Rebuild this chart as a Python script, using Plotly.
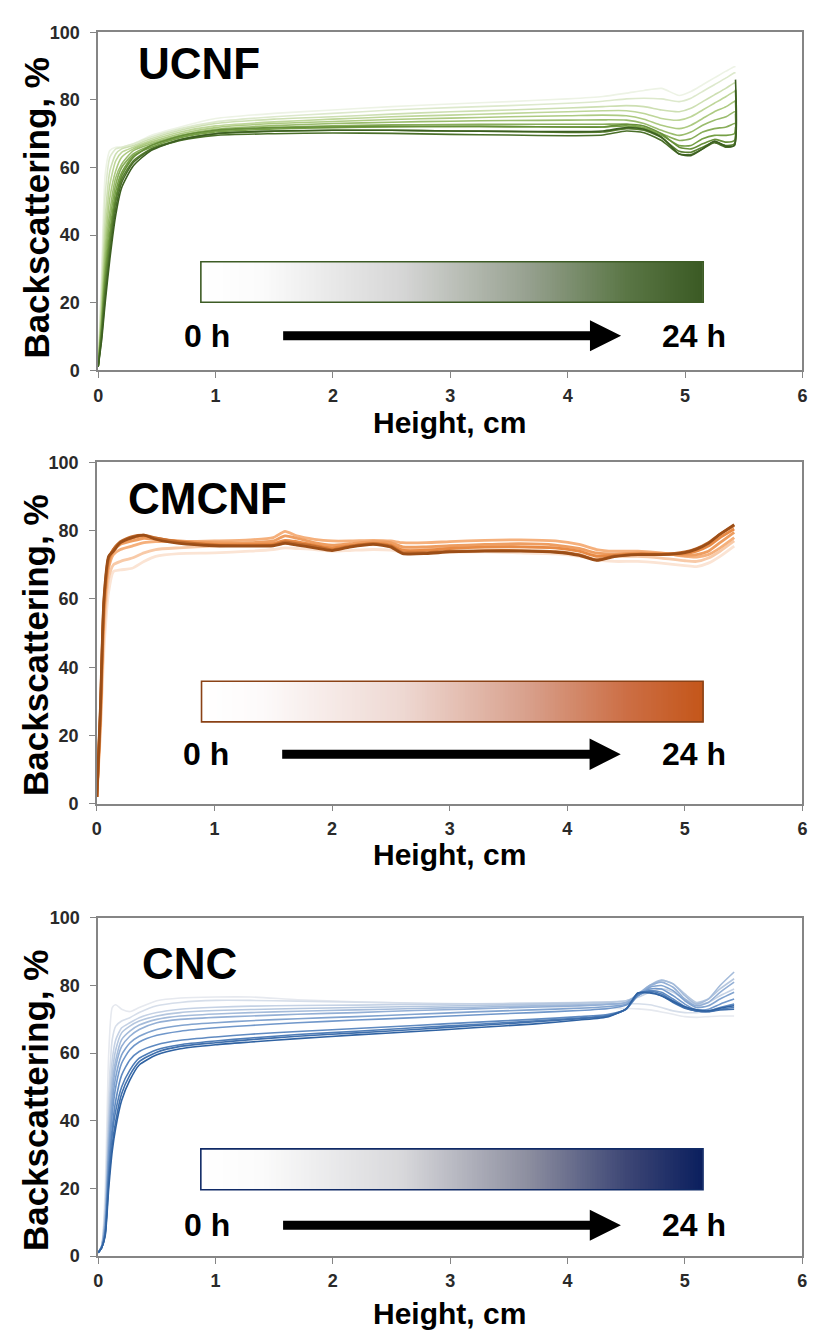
import plotly.graph_objects as go
import numpy as np

# ---------------- DATA ----------------
# UCNF
X_UCNF = [0, 0.03, 0.06, 0.1, 0.15, 0.2, 0.3, 0.45, 0.7, 1.0, 1.5, 2.0, 2.5, 3.0, 3.5, 4.0,
          4.3, 4.5, 4.65, 4.8, 4.95, 5.05, 5.15, 5.25, 5.35, 5.42, 5.43]
UCNF = [
    [1, 30, 58, 65, 66, 66, 67, 69.5, 72, 74.5, 76, 77, 78, 78.8, 79.5, 80.3, 81, 82, 82.8, 83.4, 81.3, 82.5, 84.5, 86.5, 88.5, 89.8, 89.8],
    [1, 26, 52, 63, 65.5, 66, 67, 69, 71.5, 73.5, 75, 76, 77, 77.7, 78.3, 79, 79.6, 80.3, 80.5, 80.3, 79.5, 80.5, 82.5, 84.5, 86.5, 88, 88],
    [1, 22, 45, 59, 64, 65.5, 66.5, 68.5, 71, 73, 74.3, 75, 75.8, 76.5, 77, 77.6, 78, 78.3, 78, 77, 76.5, 77.5, 79.5, 81.5, 83.5, 85, 85],
    [1, 19, 40, 55, 62, 64.5, 66, 68, 70.5, 72.3, 73.5, 74.3, 75, 75.5, 76, 76.5, 76.8, 76.8, 76, 74.5, 74, 75, 77, 79, 81, 82.5, 82.5],
    [1, 17, 36, 51, 59, 63, 65.5, 67.5, 70, 71.8, 73, 73.6, 74.2, 74.6, 75, 75.3, 75.5, 75.3, 74.3, 72.5, 71.5, 72.5, 74.5, 76.5, 78, 79.5, 79.5],
    [1, 15, 33, 47, 57, 61, 65, 67, 69.5, 71.3, 72.4, 73, 73.4, 73.7, 73.9, 74, 74.1, 74, 73, 71, 69.5, 70.5, 72.5, 74, 75, 76.5, 76.5],
    [1, 14, 30, 44, 55, 60, 64, 66.5, 69, 70.8, 71.8, 72.3, 72.6, 72.7, 72.8, 72.8, 72.8, 72.8, 71.8, 70, 68, 68.5, 70.5, 71.5, 72, 73, 73],
    [1, 13, 28, 41, 53, 58.5, 63.5, 66, 68.8, 70.5, 71.4, 71.8, 72, 72.1, 72.1, 72, 72, 72.3, 71.5, 69.5, 66.5, 66.5, 68.5, 69.5, 69.5, 70, 72],
    [1, 12, 26, 39, 51, 57.5, 63, 66.5, 69.3, 71, 71.8, 72, 72.2, 72.2, 72.1, 72, 72, 72.8, 72.3, 70, 66, 65.5, 67, 68.3, 67.5, 68, 76],
    [1, 11, 24, 37, 50, 56.5, 62, 65.5, 68.3, 70, 70.7, 71, 71, 70.8, 70.6, 70.4, 70.5, 71.5, 71, 68.8, 64.8, 64.5, 66, 67.5, 66.5, 67, 80],
    [1, 10, 22, 35, 48, 55.5, 61.5, 65.3, 68, 69.5, 70, 70.2, 70.1, 69.8, 69.6, 69.4, 69.6, 70.8, 70.3, 68, 64, 63.8, 65.5, 67.3, 66, 66.5, 83],
    [1, 9, 20, 33, 46, 54, 60.5, 65, 68.2, 70, 70.8, 71, 71, 70.8, 70.7, 70.6, 70.8, 71.8, 71.3, 69, 64, 63.5, 65.5, 67.8, 66.3, 66.5, 86],
]

# CMCNF
X_CMCNF = [0, 0.03, 0.06, 0.1, 0.14, 0.2, 0.3, 0.4, 0.5, 0.7, 1.0, 1.3, 1.5, 1.6, 1.7, 1.85, 2.0, 2.15,
           2.35, 2.5, 2.6, 2.8, 3.0, 3.3, 3.6, 3.9, 4.1, 4.25, 4.4, 4.6, 4.8, 5.0, 5.1, 5.2, 5.3, 5.42]
CMCNF = [
    [2, 20, 45, 62, 68, 68.5, 69, 71, 72.5, 73.3, 73.5, 74, 74.5, 75, 74.8, 74.5, 74, 74.2, 74.5, 74.3, 73.8, 73.5, 73.7, 73.8, 73.5, 73.2, 72.5, 71.5, 71, 71, 70.5, 69.8, 69.5, 70.5, 72.5, 75.5],
    [2, 22, 50, 66, 70, 71, 72, 73.5, 74.5, 75, 75.5, 76, 76.5, 77, 76.5, 76, 75.5, 75.5, 76, 75.8, 75, 75, 75.3, 75.5, 75.3, 75, 74.3, 73, 72.5, 72.5, 72, 71.2, 71, 72, 74, 77],
    [2, 24, 54, 69, 73, 74.5, 75.5, 76.5, 76.8, 76.8, 77, 77.3, 78, 79.8, 78.5, 77.5, 77, 77, 77.2, 77, 76.5, 76.5, 76.8, 77.2, 77.3, 77, 76, 74.5, 74, 74, 73.5, 72.5, 72.3, 73, 75, 78],
    [2, 25, 56, 70, 74, 76, 77, 77.8, 77.5, 77, 76.5, 76.5, 77, 78.5, 77.8, 76.5, 75.8, 76.2, 76.8, 76.5, 75.3, 75.3, 75.6, 76, 76.2, 75.8, 74.8, 73.5, 73.2, 73.5, 73.3, 72.8, 73, 74, 76.5, 79.5],
    [2, 26, 58, 71, 74.5, 76.5, 77.8, 78.5, 77.8, 76.8, 76, 76, 76.2, 77.2, 76.8, 75.8, 75, 75.6, 76.3, 75.8, 74.3, 74.3, 74.8, 75.2, 75.3, 75, 74, 72.5, 72.8, 73.2, 73.2, 73.3, 74, 75.5, 78, 80.5],
    [2, 27, 59, 72, 74.5, 76.8, 78.3, 78.7, 77.9, 76.7, 75.8, 75.7, 75.8, 76.7, 76.2, 75.5, 74.4, 75.4, 76.2, 75.5, 73.6, 73.6, 74, 74.2, 74.2, 73.9, 73, 71.5, 72.6, 73.1, 73.1, 73.8, 74.8, 76.5, 79, 81.5],
    [2, 28, 60, 72.5, 74, 76.5, 78, 78.7, 77.5, 76.3, 75.6, 75.5, 75.6, 76.3, 75.8, 75, 74.2, 75.2, 76, 75.2, 73.3, 73.3, 73.8, 74, 74, 73.7, 72.8, 71.3, 72.4, 73, 73, 73.6, 74.6, 76.3, 79, 81.8],
]

# CNC
X_CNC = [0, 0.03, 0.06, 0.09, 0.12, 0.15, 0.2, 0.27, 0.35, 0.5, 0.7, 1.0, 1.3, 1.7, 2.2, 2.7, 3.2, 3.7,
         4.1, 4.35, 4.5, 4.6, 4.7, 4.8, 4.9, 5.0, 5.1, 5.2, 5.3, 5.42]
CNC = [
    [1, 3, 20, 60, 73.5, 74.3, 73, 72.3, 73.5, 75.5, 76.3, 76.6, 76.6, 75.8, 75.2, 74.7, 74.2, 73.8, 73.5, 73.3, 73.2, 73.1, 72.8, 72.2, 71.5, 70.8, 70.6, 70.8, 71, 71],
    [1, 3, 16, 48, 64, 68, 69.5, 70.5, 72, 74, 75, 75.6, 75.6, 75.4, 75.1, 74.8, 74.6, 74.5, 74.5, 74.5, 74.6, 74.6, 74.3, 73.5, 72.5, 72, 72, 72.5, 73.5, 74],
    [1, 3, 14, 42, 58, 64, 67.5, 69, 70.5, 72, 73, 73.6, 73.9, 74.1, 74.2, 74.4, 74.6, 74.8, 75, 75.2, 75.5, 76.5, 78, 79, 78, 76, 74.5, 75, 77, 79],
    [1, 3, 12, 38, 54, 61, 66, 68, 69.5, 71, 72, 72.6, 72.9, 73.2, 73.5, 73.8, 74.1, 74.5, 74.8, 75, 75.5, 77, 79.5, 81.5, 80.5, 77.5, 75, 76, 79, 82],
    [1, 3, 11, 35, 51, 58, 64, 66.5, 68.3, 70, 71, 71.6, 72, 72.4, 72.8, 73.2, 73.6, 74, 74.3, 74.6, 75, 77, 80, 81.6, 80.5, 77, 74.5, 76, 80, 84],
    [1, 3, 10, 32, 48, 56, 62, 65, 67, 69, 70, 70.6, 71, 71.5, 72, 72.6, 73.1, 73.6, 74, 74.4, 75, 77.5, 80, 81, 79.5, 76, 74, 75, 78, 81],
    [1, 2.5, 9, 30, 45, 53, 59.5, 63, 65, 67, 68.2, 69, 69.6, 70.2, 70.8, 71.5, 72.2, 72.8, 73.3, 73.8, 74.5, 77, 79.5, 80, 78.5, 75.5, 73.5, 74, 76, 78],
    [1, 2.5, 8, 28, 42, 50, 57, 61, 63.3, 65.3, 66.5, 67.5, 68.2, 69, 69.8, 70.5, 71.3, 72, 72.6, 73.2, 74.2, 77, 79, 79, 77, 74.5, 72.8, 73, 74.5, 76],
    [1, 2.5, 7, 25, 38, 46, 53.5, 58, 60.5, 62.5, 63.8, 64.8, 65.6, 66.4, 67.3, 68.2, 69.1, 70, 70.8, 71.5, 73, 77, 78.5, 78, 76, 73.8, 72.5, 72.5, 73.5, 74.5],
    [1, 2.5, 7, 24, 36, 43, 50, 55, 58.5, 61, 62.5, 63.6, 64.5, 65.5, 66.5, 67.5, 68.5, 69.5, 70.4, 71.2, 73, 77.5, 78.3, 77.5, 75.5, 73.5, 72.5, 72.3, 73, 73.5],
    [1, 2.5, 6.5, 22, 33, 40, 48, 53.5, 57.5, 60.3, 62, 63.1, 64, 65, 66, 67, 68.1, 69.2, 70.2, 71, 73, 77.8, 78, 77, 75, 73.3, 72.5, 72.3, 72.8, 73],
    [1, 2.5, 6, 20, 31, 38, 46, 52, 56.5, 59.5, 61.3, 62.5, 63.3, 64.3, 65.4, 66.4, 67.5, 68.6, 69.8, 70.8, 73.2, 77.8, 77.8, 77, 75.3, 73.7, 72.8, 72.5, 73.3, 74],
]

PANEL_NAMES = ["UCNF", "CMCNF", "CNC"]
X_TICKS = [0, 1, 2, 3, 4, 5, 6]
Y_TICKS = [0, 20, 40, 60, 80, 100]
TIME_START = "0 h"
TIME_END = "24 h"
X_TITLE = "Height, cm"
Y_TITLE = "Backscattering, %"

# ---------------- STYLE ----------------
FONT = "Liberation Sans, Arial, sans-serif"


def hex2rgb(h):
    h = h.lstrip('#')
    return [int(h[i:i + 2], 16) for i in (0, 2, 4)]


def ramp(stops, n):
    cols = []
    for i in range(n):
        t = i / (n - 1) if n > 1 else 0
        seg = min(int(t * (len(stops) - 1)), len(stops) - 2)
        lt = t * (len(stops) - 1) - seg
        a, b = hex2rgb(stops[seg]), hex2rgb(stops[seg + 1])
        c = [round(a[k] + (b[k] - a[k]) * lt) for k in range(3)]
        cols.append('rgb(%d,%d,%d)' % tuple(c))
    return cols


panels = [
    dict(x=X_UCNF, curves=UCNF, stops=['#edf3e5', '#b3cf88', '#6f9a3e', '#3c5f21'], lw=1.6,
         ydom=[0.7271, 0.9831], xdom=[0.1153, 0.9869],
         bar=[0.875, 5.155, 20.1, 32.1], barline='#3d5c25',
         grad=[[0, '#ffffff'], [0.12, '#fbfbfb'], [0.4, '#d6d6d6'], [0.65, '#97a190'], [0.85, '#5a7645'], [1, '#3b5a24']],
         arrow_y=10.2, label_y=90.9, label_x=0.32, ytitle_py=201, xtitle_py=419),
    dict(x=X_CMCNF, curves=CMCNF, stops=['#fbe4d4', '#f5b07c', '#e88a45', '#9c4e17'], lw=2.8,
         ydom=[0.3987, 0.6572], xdom=[0.1137, 0.9869],
         bar=[0.89, 5.155, 24.0, 35.9], barline='#8a4216',
         grad=[[0, '#ffffff'], [0.12, '#fdfafa'], [0.4, '#eed8d2'], [0.65, '#d8a08c'], [0.85, '#cc6e44'], [1, '#c4561a']],
         arrow_y=14.5, label_y=89.4, label_x=0.25, ytitle_py=645, xtitle_py=857),
    dict(x=X_CNC, curves=CNC, stops=['#e6e9ef', '#aabfdc', '#6a93c8', '#2f62a2'], lw=1.6,
         ydom=[0.0560, 0.3122], xdom=[0.1153, 0.9866],
         bar=[0.875, 5.155, 19.6, 31.7], barline='#102a66',
         grad=[[0, '#ffffff'], [0.12, '#fbfbfb'], [0.4, '#d8d8db'], [0.65, '#8d8fa0'], [0.85, '#3d4675'], [1, '#0b1f5e']],
         arrow_y=9.1, label_y=86.6, label_x=0.355, ytitle_py=1107, xtitle_py=1323),
]

fig = go.Figure()
layout = dict(
    width=818, height=1340, margin=dict(l=0, r=0, t=0, b=0),
    paper_bgcolor='white', plot_bgcolor='white', showlegend=False,
    font=dict(family=FONT, color='#222'),
    annotations=[], shapes=[],
)

for i, p in enumerate(panels):
    n = i + 1
    xa = 'x' if n == 1 else 'x%d' % n
    ya = 'y' if n == 1 else 'y%d' % n
    cols = ramp(p['stops'], len(p['curves']))

    # gradient bar
    x0, x1, y0, y1 = p['bar']
    N = 200
    fig.add_trace(go.Heatmap(
        x=np.linspace(x0, x1, N + 1), y=[y0, y1], z=[np.linspace(0, 1, N)],
        colorscale=p['grad'], showscale=False, hoverinfo='skip', zmin=0, zmax=1,
        xaxis=xa, yaxis=ya))

    for c, ys in zip(cols, p['curves']):
        fig.add_trace(go.Scatter(x=p['x'], y=ys, mode='lines',
                                 line=dict(color=c, width=p['lw'], shape='spline', smoothing=0.6),
                                 xaxis=xa, yaxis=ya, hoverinfo='skip'))

    axkey = 'xaxis' if n == 1 else 'xaxis%d' % n
    aykey = 'yaxis' if n == 1 else 'yaxis%d' % n
    common = dict(showline=True, linecolor='#858585', linewidth=1.5, mirror=True,
                  ticks='outside', ticklen=6, tickwidth=1.2, tickcolor='#858585',
                  showgrid=False, zeroline=False,
                  tickfont=dict(family=FONT, size=18, color='#2a2a2a', weight='bold'))
    layout[axkey] = dict(domain=p['xdom'], range=[0, 6], tickvals=X_TICKS, anchor=ya,
                         ticklabelstandoff=2, **common)
    layout[aykey] = dict(domain=p['ydom'], range=[0, 100], tickvals=Y_TICKS, anchor=xa,
                         ticklabelstandoff=7, **common)

    xr = xa
    yr = ya
    # bar border
    layout['shapes'].append(dict(type='rect', xref=xr, yref=yr, x0=x0, x1=x1, y0=y0, y1=y1,
                                 line=dict(color=p['barline'], width=1.6), fillcolor='rgba(0,0,0,0)'))
    # arrow
    ay = p['arrow_y']
    path = ('M 1.576,{a} L 4.19,{a} L 4.19,{b} L 4.455,{c} L 4.19,{d} L 4.19,{e} L 1.576,{e} Z'
            .format(a=ay - 1.35, b=ay - 4.6, c=ay, d=ay + 4.6, e=ay + 1.35))
    layout['shapes'].append(dict(type='path', xref=xr, yref=yr, path=path,
                                 fillcolor='black', line=dict(color='black', width=0)))
    # texts
    layout['annotations'] += [
        dict(x=p['label_x'], y=p['label_y'], xref=xr, yref=yr, text=PANEL_NAMES[i], showarrow=False,
             xanchor='left', yanchor='middle', font=dict(family=FONT, size=44, color='black', weight='bold')),
        dict(x=0.93, y=ay, xref=xr, yref=yr, text=TIME_START, showarrow=False,
             xanchor='center', yanchor='middle', font=dict(family=FONT, size=32, color='black', weight='bold')),
        dict(x=5.08, y=ay, xref=xr, yref=yr, text=TIME_END, showarrow=False,
             xanchor='center', yanchor='middle', font=dict(family=FONT, size=32, color='black', weight='bold')),
        dict(x=31 / 818, y=1 - p['ytitle_py'] / 1340, xref='paper', yref='paper', text=Y_TITLE,
             showarrow=False, textangle=-90, xanchor='center', yanchor='middle',
             font=dict(family=FONT, size=35, color='black', weight='bold')),
        dict(x=450 / 818, y=1 - p['xtitle_py'] / 1340, xref='paper', yref='paper', text=X_TITLE,
             showarrow=False, xanchor='center', yanchor='middle',
             font=dict(family=FONT, size=30, color='black', weight='bold')),
    ]

fig.update_layout(**layout)
fig.write_html("out.html")
